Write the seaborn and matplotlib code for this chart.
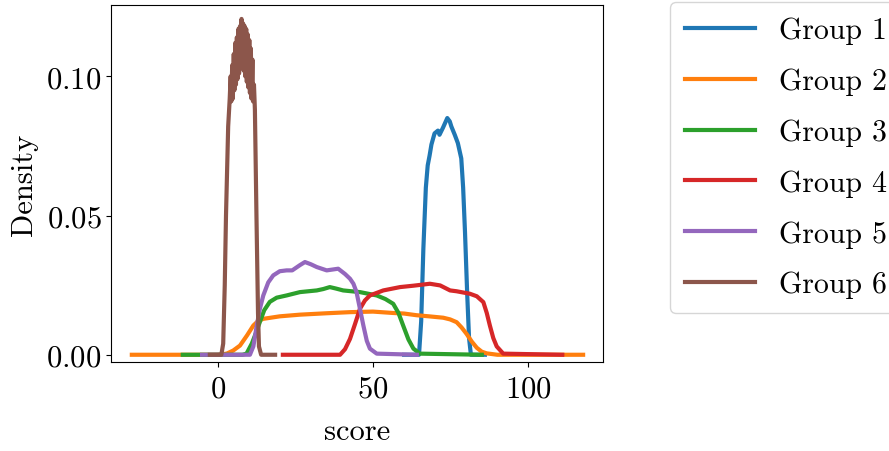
import pandas as pd
import matplotlib
matplotlib.use("Agg")
import matplotlib.pyplot as plt
from matplotlib.lines import Line2D
import seaborn as sns

# ── DATA ──────────────────────────────────────────────────────────────────────

GROUPS = ["Group 1", "Group 2", "Group 3", "Group 4", "Group 5", "Group 6"]

g1_x = [60, 64.8, 65.5, 66.2, 67.0, 67.6, 68.2, 68.8, 69.8, 70.9, 71.4, 72.5, 73.1,
        73.9, 74.7, 75.2, 76.3, 77.3, 78.4, 79.0, 79.6, 80.3, 80.9, 81.5, 86]
g1_y = [0, 0, 0.012, 0.038, 0.060, 0.068, 0.0715, 0.0755, 0.0795, 0.0805, 0.079,
        0.0815, 0.0830, 0.0850, 0.0838, 0.0820, 0.0790, 0.0760, 0.0705, 0.060, 0.044,
        0.022, 0.006, 0, 0]

g2_x = [-27.6, 0, 2.9, 5, 7.2, 9.5, 11.5, 13.0, 14.7, 20, 26.5, 35, 42.6, 50, 56.5,
        60, 64, 68, 72.6, 74.8, 76.9, 78.5, 80.1, 81.8, 83.4, 85.0, 86.6, 90, 117.6]
g2_y = [0, 0, 0.0004, 0.0015, 0.0033, 0.007, 0.0105, 0.0121, 0.0129, 0.0138, 0.0144,
        0.0149, 0.0153, 0.0155, 0.0150, 0.0148, 0.0142, 0.0138, 0.0133, 0.0127,
        0.0117, 0.0098, 0.0075, 0.0047, 0.0025, 0.0011, 0.0005, 0, 0]

g3_x = [-11.2, 8, 9.3, 11, 12.4, 13.6, 15.0, 16.8, 19.0, 22.2, 26.5, 31.9, 34, 36.1,
        38, 40.4, 45.8, 51.2, 54, 56.5, 58.2, 59.7, 61.4, 63, 65.1, 85]
g3_y = [0, 0, 0.0004, 0.004, 0.0080, 0.0118, 0.0160, 0.019, 0.0205, 0.0213, 0.0225,
        0.0231, 0.0236, 0.0243, 0.0238, 0.0231, 0.0225, 0.0213, 0.0200, 0.0183,
        0.0150, 0.0105, 0.0055, 0.0022, 0.0004, 0]

g4_x = [21, 39.4, 41, 42.6, 44.2, 45.8, 47.4, 49, 53.3, 58.7, 63, 68.3, 71.6, 74.8,
        76.9, 81.2, 83.4, 85.5, 86.6, 87.6, 88.7, 89.8, 91.9, 110.9]
g4_y = [0, 0, 0.002, 0.0057, 0.011, 0.0165, 0.0195, 0.0213, 0.0231, 0.0243, 0.0248,
        0.0255, 0.0249, 0.0231, 0.0228, 0.0219, 0.0210, 0.0189, 0.0150, 0.0105,
        0.0060, 0.0030, 0.0004, 0]

g5_x = [-5, 10.4, 11.5, 12.6, 13.6, 14.7, 16.3, 17.9, 20, 22.2, 24, 26.5, 28.1, 30,
        31.9, 35.1, 38.8, 41, 42.6, 43.7, 44.7, 45.8, 46.9, 48.0, 49, 51.2, 64.1]
g5_y = [0, 0, 0.003, 0.0105, 0.0165, 0.0213, 0.026, 0.0285, 0.0300, 0.0303, 0.0303,
        0.0322, 0.0333, 0.0325, 0.0315, 0.0303, 0.0309, 0.0290, 0.0273, 0.0255,
        0.0225, 0.0165, 0.0105, 0.0050, 0.0022, 0.0004, 0]

g6_x = [-2.5, 1.2, 1.8, 2.3, 2.7, 3.4, 3.9,
        4.2, 4.4, 4.7, 4.9, 5.2, 5.4, 5.7, 5.9, 6.2, 6.4, 6.7, 6.9, 7.2, 7.4, 7.7,
        7.9, 8.2, 8.4, 8.7, 8.9, 9.2, 9.4, 9.7, 9.9, 10.2, 10.4, 10.7, 10.9, 11.2,
        11.4, 11.7, 12.0, 12.5, 13.0, 13.3, 14.0, 18.5]
g6_y = [0, 0, 0.004, 0.025, 0.05, 0.082, 0.092,
        0.100, 0.091, 0.104, 0.092, 0.108, 0.095, 0.112, 0.097, 0.114, 0.099, 0.117,
        0.101, 0.118, 0.103, 0.1206, 0.104, 0.119, 0.102, 0.118, 0.100, 0.117, 0.098,
        0.115, 0.096, 0.113, 0.094, 0.110, 0.092, 0.106, 0.091, 0.097, 0.088, 0.05,
        0.015, 0.003, 0, 0]

SERIES = [(g1_x, g1_y), (g2_x, g2_y), (g3_x, g3_y),
          (g4_x, g4_y), (g5_x, g5_y), (g6_x, g6_y)]

COLORS = sns.color_palette("tab10", 6)

# ── PLOT ──────────────────────────────────────────────────────────────────────

plt.rcParams.update({
    "font.family":               "cmr10",
    "mathtext.fontset":          "cm",
    "axes.formatter.use_mathtext": True,
    "font.size":                 22,
    "xtick.major.pad":           6,
})

frames = [pd.DataFrame({"score": x, "Density": y, "group": g})
          for g, (x, y) in zip(GROUPS, SERIES)]
df = pd.concat(frames, ignore_index=True)

fig = plt.figure(figsize=(8.89, 4.52), dpi=100)
ax = fig.add_axes([111 / 889, 1 - 363 / 452, 492 / 889, 357 / 452])

sns.lineplot(data=df, x="score", y="Density", hue="group", hue_order=GROUPS,
             palette=COLORS, estimator=None, sort=False, linewidth=3,
             legend=False, ax=ax)

ax.set_xlim(-34.3, 124.0)
ax.set_ylim(-0.0026, 0.1256)
ax.set_xticks([0, 50, 100])
ax.set_yticks([0.0, 0.05, 0.10])
ax.set_xlabel("score", labelpad=11)
ax.set_ylabel("Density", labelpad=6)

handles = [Line2D([0], [0], color=c, lw=3) for c in COLORS]
fig.legend(handles, GROUPS, loc="upper left", fontsize=21.5,
           bbox_to_anchor=(670 / 889, 1 - 3 / 452), borderaxespad=0,
           handlelength=2.35, handletextpad=0.8, labelspacing=0.78,
           borderpad=0.5)

fig.savefig("out.png", dpi=100)
